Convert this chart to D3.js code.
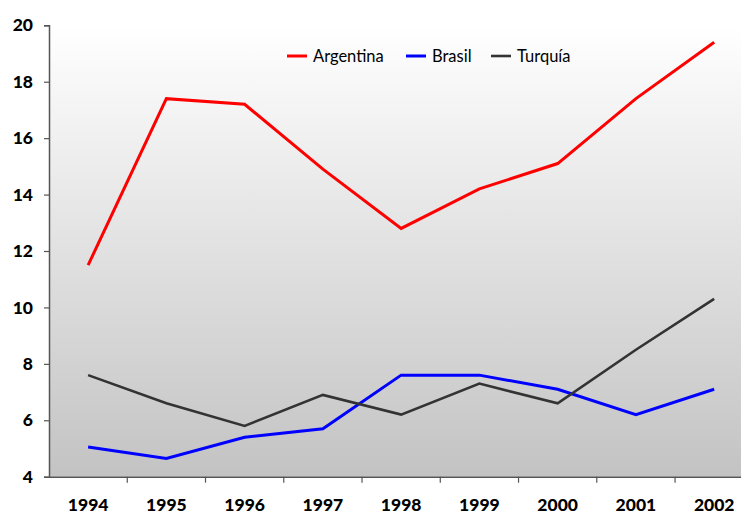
<!DOCTYPE html>
<html><head><meta charset="utf-8">
<script src="https://cdn.jsdelivr.net/npm/d3@7"></script>
<style>html,body{margin:0;padding:0;background:#fff;overflow:hidden}</style>
</head><body>
<svg id="c" width="741" height="515"></svg>
<script>
const years = ["1994","1995","1996","1997","1998","1999","2000","2001","2002"];
const argentina = [11.5,17.4,17.2,14.9,12.8,14.2,15.1,17.4,19.4];
const brasil = [5.05,4.65,5.4,5.7,7.6,7.6,7.1,6.2,7.1];
const turquia = [7.6,6.6,5.8,6.9,6.2,7.3,6.6,8.5,10.3];
const yTicks = [4,6,8,10,12,14,16,18,20];
const seriesNames = ["Argentina","Brasil","Turquía"];
const seriesColors = ["#ff0000","#0000ff","#333333"];
const seriesData = [argentina, brasil, turquia];

(function(){
const svg = d3.select("#c");
const mLeft = 49, mRight = 753.3, mTop = 25.3, mBottom = 476.7;
const x = d3.scaleBand().domain(years).range([mLeft, mRight]);
const y = d3.scaleLinear().domain([4,20]).range([mBottom, mTop]);

const defs = svg.append("defs");
const g = defs.append("linearGradient").attr("id","bg").attr("x1",0).attr("y1",0).attr("x2",0).attr("y2",1);
g.append("stop").attr("offset","0%").attr("stop-color","#ffffff");
g.append("stop").attr("offset","100%").attr("stop-color","#c3c3c3");
svg.append("rect").attr("x",mLeft).attr("y",mTop).attr("width",mRight-mLeft).attr("height",mBottom-mTop).attr("fill","url(#bg)");

const font = "Lato, 'DejaVu Sans', sans-serif";
const yAxis = svg.append("g").attr("transform",`translate(${mLeft},0)`)
  .call(d3.axisLeft(y).tickValues(yTicks).tickSize(5).tickPadding(11).tickFormat(d3.format("d")));
const xAxis = svg.append("g").attr("transform",`translate(0,${mBottom})`)
  .call(d3.axisBottom(x).tickSize(0).tickPadding(21.8));
svg.append("g").selectAll("line").data(years.slice(1)).join("line")
  .attr("x1",d=>x(d)).attr("x2",d=>x(d)).attr("y1",mBottom).attr("y2",mBottom+6)
  .attr("stroke","#555").attr("stroke-width",1.2);
[yAxis,xAxis].forEach(a=>{
  a.selectAll(".domain").attr("stroke","#555").attr("stroke-width",1.5);
  a.selectAll(".tick line").attr("stroke","#555").attr("stroke-width",1.2);
  a.selectAll("text").attr("font-family",font).attr("font-weight","900").attr("font-size","17.5px").attr("fill","#000");
});

const line = d3.line().x((d,i)=>x(years[i])+x.bandwidth()/2).y(d=>y(d));
seriesData.forEach((s,i)=>{
  svg.append("path").datum(s).attr("d",line).attr("fill","none")
    .attr("stroke",seriesColors[i]).attr("stroke-width", i==2?2.6:3).attr("stroke-linejoin","miter");
});

const legX = [287,406,491];
const lg = svg.append("g");
seriesNames.forEach((n,i)=>{
  lg.append("line").attr("x1",legX[i]).attr("x2",legX[i]+20).attr("y1",56).attr("y2",56)
    .attr("stroke",seriesColors[i]).attr("stroke-width",i==2?2.6:3);
  lg.append("text").attr("x",legX[i]+26).attr("y",62).text(n)
    .attr("font-family",font).attr("font-size","16.5px").attr("fill","#000");
});
})();
</script>
</body></html>
